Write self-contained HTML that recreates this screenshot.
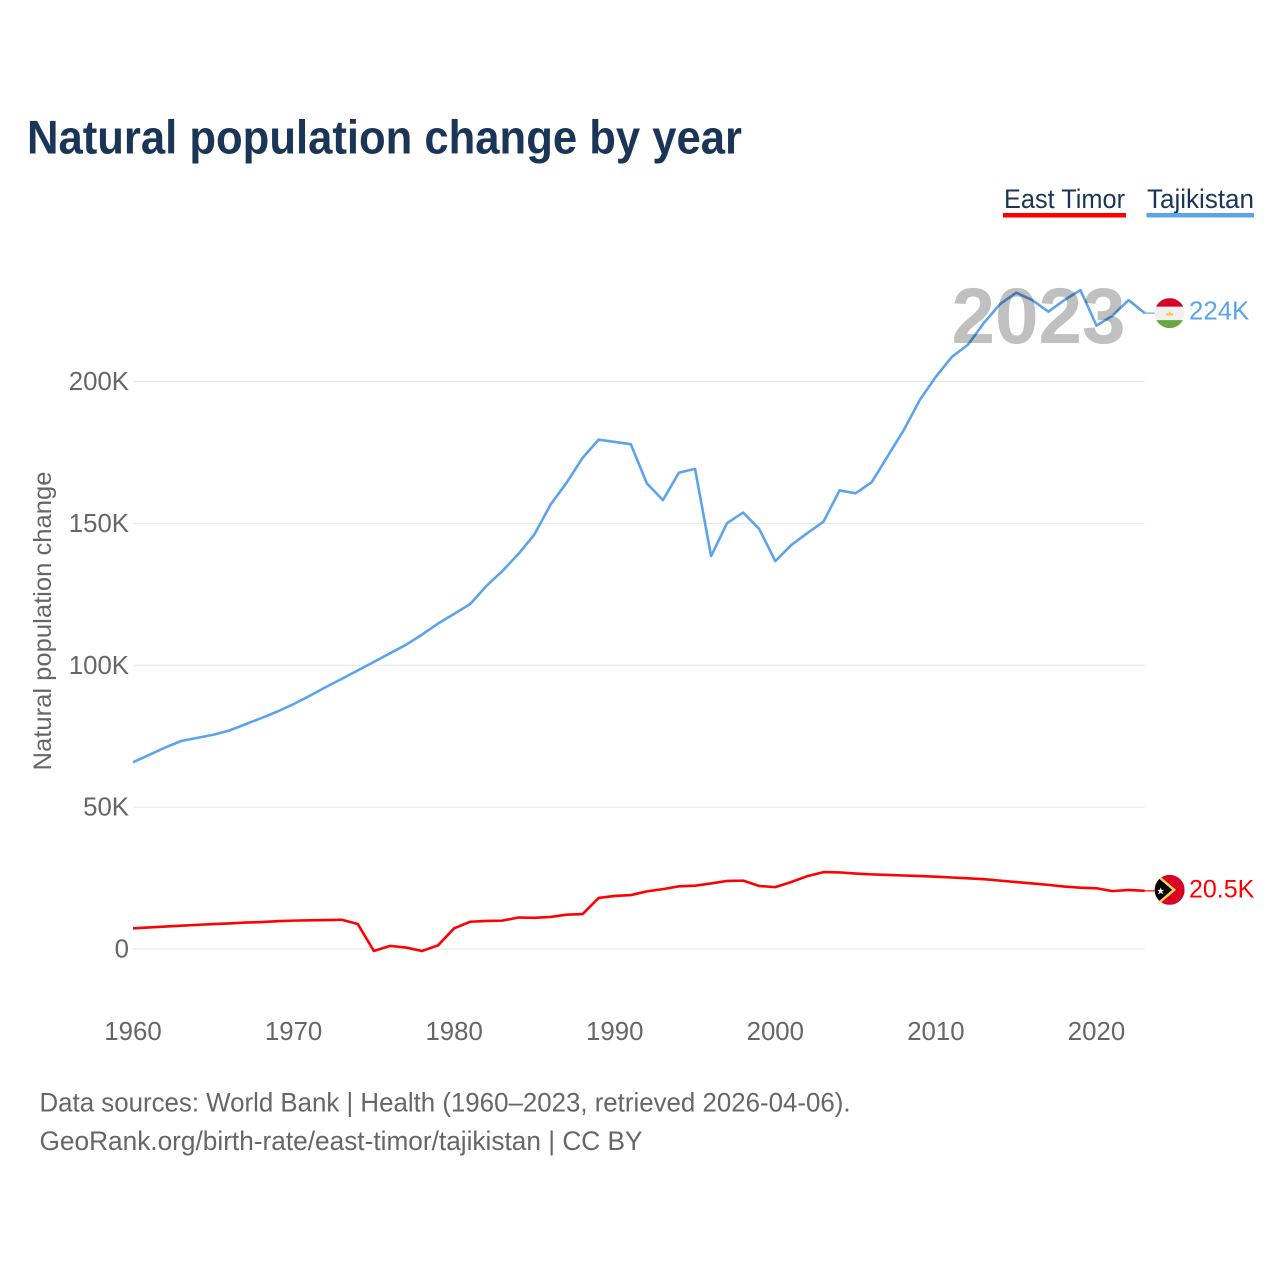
<!DOCTYPE html>
<html lang="en">
<head>
<meta charset="utf-8">
<title>Natural population change by year</title>
<style>
html,body{margin:0;padding:0;background:#fff;}
svg{display:block;}
text{font-family:"Liberation Sans",sans-serif;}
</style>
</head>
<body>
<svg id="chart" xmlns="http://www.w3.org/2000/svg" width="1280" height="1280" viewBox="0 0 1280 1280">
  <rect width="1280" height="1280" fill="#ffffff"/>
  <text x="27" y="153.5" font-size="47" font-weight="700" fill="#1a3556" textLength="715" lengthAdjust="spacingAndGlyphs">Natural population change by year</text>

  <g>
    <g>
      <text x="1004" y="208" font-size="27" fill="#1a3556" textLength="121" lengthAdjust="spacingAndGlyphs">East Timor</text>
      <rect x="1003" y="213" width="123" height="4.500" fill="#ff0000"/>
    </g>
    <g>
      <text x="1147" y="208" font-size="27" fill="#1a3556" textLength="107" lengthAdjust="spacingAndGlyphs">Tajikistan</text>
      <rect x="1146.500" y="213" width="107.500" height="4.500" fill="#5ba4ec"/>
    </g>
  </g>

  <g id="grid"></g>
  <g id="yticks"></g>
  <g id="xticks"></g>
  <text transform="translate(51,770.500) rotate(-90)" font-size="25" fill="#666666" textLength="299" lengthAdjust="spacingAndGlyphs">Natural population change</text>

  <g id="series"></g>
  <text x="951.500" y="343" font-size="79" font-weight="700" fill="#c0c0c0" textLength="174" lengthAdjust="spacingAndGlyphs" style="mix-blend-mode:multiply">2023</text>

  <g id="flag-tajikistan">
    <clipPath id="clip-tj"><circle cx="0" cy="0" r="15"/></clipPath>
    <g clip-path="url(#clip-tj)">
      <rect x="-15" y="-15" width="30" height="30" fill="#f0f0f0"/>
      <rect x="-15" y="-15" width="30" height="8.500" fill="#d80027"/>
      <rect x="-15" y="7" width="30" height="8" fill="#6da544"/>
      <path d="M-3.500 2.500 L-3.500 -0.500 L-1.700 0.500 L0 -2 L1.700 0.500 L3.500 -0.500 L3.500 2.500 Z" fill="#ffc84a"/>
    </g>
  </g>
  <g id="flag-east-timor">
    <clipPath id="clip-tl"><circle cx="0" cy="0" r="15"/></clipPath>
    <g clip-path="url(#clip-tl)">
      <rect x="-15" y="-15" width="30" height="30" fill="#d80027"/>
      <path d="M-15 -18 L6.500 0 L-15 18 Z" fill="#ffda44"/>
      <path d="M-15 -15 L2.500 0 L-15 15 Z" fill="#000000"/>
      <path d="M-9 -2.500 L-8 0 L-5.500 0 L-7.500 1.800 L-6.500 4.500 L-9 3 L-11.500 4.500 L-10.500 1.800 L-12.500 0 L-10 0 Z" fill="#f0f0f0"/>
    </g>
  </g>
  <g id="endlabels"></g>

  <text x="39.500" y="1111.500" font-size="26.500" fill="#666666" textLength="811" lengthAdjust="spacingAndGlyphs">Data sources: World Bank | Health (1960–2023, retrieved 2026-04-06).</text>
  <text x="39.500" y="1150" font-size="26.500" fill="#666666" textLength="603" lengthAdjust="spacingAndGlyphs">GeoRank.org/birth-rate/east-timor/tajikistan | CC BY</text>
</svg>
<script>
const firstYear = 1960;
const xTickYears = [1960, 1970, 1980, 1990, 2000, 2010, 2020];
const yTickValues = [0, 50, 100, 150, 200];
const yTickLabels = ["0", "50K", "100K", "150K", "200K"];
const tajikistanValues = [65.8,68.4,71.0,73.3,74.4,75.5,77.0,79.2,81.4,83.7,86.3,89.2,92.3,95.2,98.2,101.2,104.2,107.2,110.8,114.7,118.1,121.6,127.9,133.2,139.2,146.1,156.6,164.3,173.1,179.5,178.7,177.9,164.1,158.2,167.9,169.2,138.5,150.1,153.8,148,136.7,142.4,146.6,150.6,161.6,160.6,164.5,173.7,182.9,193.5,201.7,208.7,213,220.7,227.3,231.3,228.7,224.6,228.7,232.2,219.7,223.2,228.7,224.1];
const eastTimorValues = [7.3,7.6,7.9,8.2,8.5,8.8,9.0,9.3,9.5,9.8,10.0,10.1,10.2,10.3,8.8,-0.7,1.1,0.5,-0.7,1.3,7.3,9.6,9.9,10,11.1,11.0,11.3,12.1,12.3,18,18.7,19,20.3,21.1,22.1,22.3,23.1,24,24.1,22.2,21.8,23.6,25.7,27.1,27.0,26.6,26.3,26.1,25.9,25.7,25.5,25.2,24.9,24.6,24.1,23.6,23.1,22.6,22,21.6,21.4,20.4,20.8,20.5];

const NS = "http://www.w3.org/2000/svg";
function xScale(year) { return 133 + (year - 1960) * 16.058; }
function yScale(value) { return 949 - value * 2.8375; }
function formatValue(v) { return v >= 100 ? Math.round(v) + "K" : v.toFixed(1) + "K"; }
function points(values) {
  return values.map(function (v, i) {
    return xScale(firstYear + i).toFixed(2) + "," + yScale(v).toFixed(2);
  }).join(" ");
}

const grid = document.getElementById("grid");
const yticks = document.getElementById("yticks");
const xticks = document.getElementById("xticks");
const series = document.getElementById("series");
const endlabels = document.getElementById("endlabels");
const lastX = xScale(firstYear + tajikistanValues.length - 1);

yTickValues.forEach(function (v, i) {
  const line = document.createElementNS(NS, "line");
  
  
  line.setAttribute("x1", xScale(firstYear));
  line.setAttribute("x2", lastX);
  line.setAttribute("y1", yScale(v));
  line.setAttribute("y2", yScale(v));
  line.setAttribute("stroke", "#e6e6e6");
  line.setAttribute("stroke-width", "1");
  grid.appendChild(line);

  const label = document.createElementNS(NS, "text");
  
  
  label.setAttribute("x", 129);
  label.setAttribute("y", yScale(v) + 8.5);
  label.setAttribute("text-anchor", "end");
  label.setAttribute("font-size", "25.8");
  label.setAttribute("fill", "#666666");
  label.textContent = yTickLabels[i];
  yticks.appendChild(label);
});

xTickYears.forEach(function (yr) {
  const label = document.createElementNS(NS, "text");
  
  
  label.setAttribute("x", xScale(yr));
  label.setAttribute("y", 1040);
  label.setAttribute("text-anchor", "middle");
  label.setAttribute("font-size", "25.8");
  label.setAttribute("fill", "#666666");
  label.textContent = String(yr);
  xticks.appendChild(label);
});

const lineEastTimor = document.createElementNS(NS, "polyline");


lineEastTimor.setAttribute("points", points(eastTimorValues));
lineEastTimor.setAttribute("fill", "none");
lineEastTimor.setAttribute("stroke", "#ff0000");
lineEastTimor.setAttribute("stroke-width", "2.6");
lineEastTimor.setAttribute("stroke-linejoin", "round");
series.appendChild(lineEastTimor);

const lineTajikistan = document.createElementNS(NS, "polyline");


lineTajikistan.setAttribute("points", points(tajikistanValues));
lineTajikistan.setAttribute("fill", "none");
lineTajikistan.setAttribute("stroke", "#5ba4ec");
lineTajikistan.setAttribute("stroke-width", "2.6");
lineTajikistan.setAttribute("stroke-linejoin", "round");
series.appendChild(lineTajikistan);

const tjLast = tajikistanValues[tajikistanValues.length - 1];
const tlLast = eastTimorValues[eastTimorValues.length - 1];

const connectorTj = document.createElementNS(NS, "line");


connectorTj.setAttribute("x1", lastX);
connectorTj.setAttribute("x2", lastX + 10);
connectorTj.setAttribute("y1", yScale(tjLast));
connectorTj.setAttribute("y2", yScale(tjLast));
connectorTj.setAttribute("stroke", "#5ba4ec");
connectorTj.setAttribute("stroke-width", "1.2");
series.appendChild(connectorTj);

const connectorTl = document.createElementNS(NS, "line");


connectorTl.setAttribute("x1", lastX);
connectorTl.setAttribute("x2", lastX + 10);
connectorTl.setAttribute("y1", yScale(tlLast));
connectorTl.setAttribute("y2", yScale(tlLast));
connectorTl.setAttribute("stroke", "#ff0000");
connectorTl.setAttribute("stroke-width", "1.2");
series.appendChild(connectorTl);

document.getElementById("flag-tajikistan").setAttribute("transform", "translate(" + (lastX + 25) + "," + yScale(tjLast) + ")");
document.getElementById("flag-east-timor").setAttribute("transform", "translate(" + (lastX + 25) + "," + (yScale(tlLast) - 1) + ")");

const labelTj = document.createElementNS(NS, "text");


labelTj.setAttribute("x", 1189);
labelTj.setAttribute("y", yScale(tjLast) + 6.5);
labelTj.setAttribute("font-size", "25.8");
labelTj.setAttribute("fill", "#5ba4ec");
labelTj.textContent = formatValue(tjLast);
endlabels.appendChild(labelTj);

const labelTl = document.createElementNS(NS, "text");


labelTl.setAttribute("x", 1189);
labelTl.setAttribute("y", yScale(tlLast) + 6.5);
labelTl.setAttribute("font-size", "25");
labelTl.setAttribute("fill", "#ff0000");
labelTl.textContent = formatValue(tlLast);
endlabels.appendChild(labelTl);
</script>
</body>
</html>
